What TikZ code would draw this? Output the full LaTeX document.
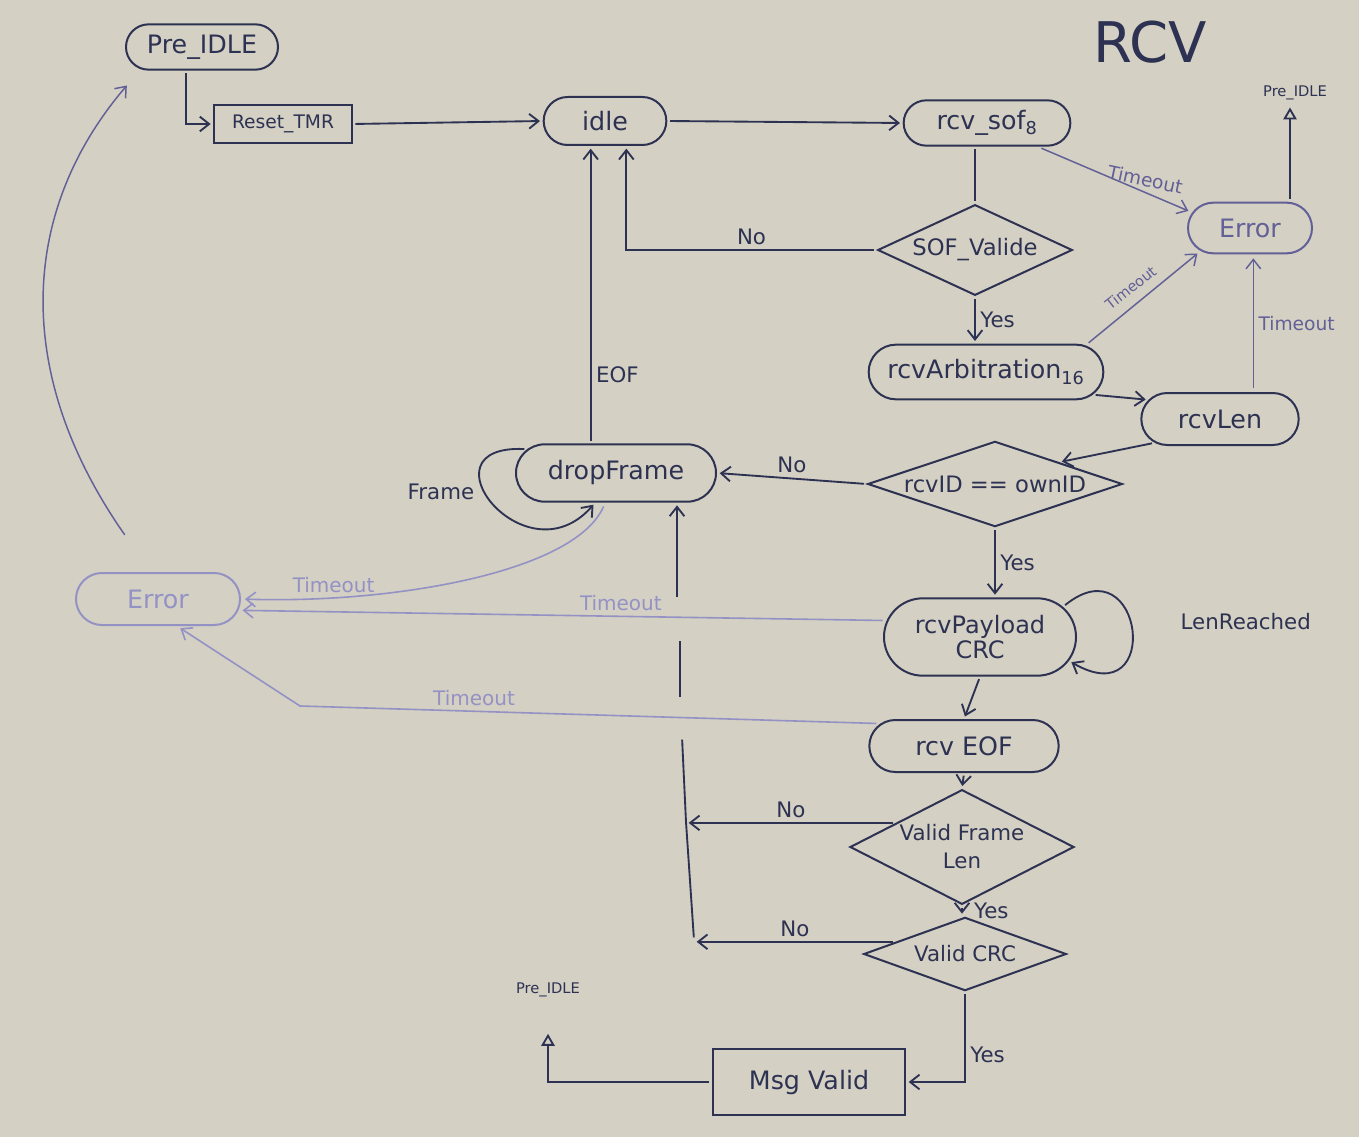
\documentclass[tikz,border=0pt]{standalone}
\usepackage{fontspec}
\setmainfont{DejaVu Sans}
\usepackage{tikz}
\usetikzlibrary{shapes.misc, shapes.geometric, arrows.meta}
\definecolor{board}{RGB}{212,208,196}
\definecolor{ink}{RGB}{45,50,82}
\definecolor{inkmid}{RGB}{98,96,150}
\definecolor{inklight}{RGB}{148,146,196}

\begin{document}
\begin{tikzpicture}[x=0.75pt,y=0.75pt,yscale=-1,xscale=1,
    >={Straight Barb[length=7pt,width=11pt]},
    state/.style={rounded rectangle, draw=ink, line width=1.5pt, text=ink, inner xsep=1pt, font=\fontsize{19}{21}\selectfont},
    statebox/.style={rectangle, draw=ink, line width=1.5pt, text=ink, font=\fontsize{19}{21}\selectfont},
    decision/.style={diamond, draw=ink, line width=1.5pt, inner sep=0pt},
    dtext/.style={text=ink, font=\fontsize{17}{21}\selectfont, align=center},
    flow/.style={draw=ink, line width=1.4pt, shorten >=2pt, shorten <=2pt},
    tmo/.style={draw=inkmid, line width=1.1pt, shorten >=3pt, shorten <=3pt},
    tmolight/.style={draw=inklight, line width=1.2pt, shorten >=3pt, shorten <=3pt},
    lbl/.style={text=ink, font=\fontsize{16}{18}\selectfont},
    lblmid/.style={text=inkmid, font=\fontsize{14}{16}\selectfont},
    lbllight/.style={text=inklight, font=\fontsize{15}{17}\selectfont},
    tiny/.style={text=ink, font=\fontsize{11}{13}\selectfont}]
    %uncomment if require: \path (0,1137); %set diagram left start at 0, and has height of 1137
    \useasboundingbox (0,0) rectangle (1359,1137);
    \fill [board] (0,0) rectangle (1359,1137);

    % Text Node
    \draw (1150,42) node [text=ink, font=\fontsize{42}{44}\selectfont] (title) {RCV};

    %Shape: Rounded Rect [id:preA]
    \draw (202,47) node [state, minimum width=116pt, minimum height=34pt] (preA) {Pre\_IDLE};
    %Shape: Rectangle [id:reset]
    \draw (283,124) node [statebox, minimum width=103pt, minimum height=28pt, font=\fontsize{14}{16}\selectfont] (reset) {Reset\_TMR};
    %Shape: Rounded Rect [id:idle]
    \draw (605,121) node [state, minimum width=94pt, minimum height=36pt] (idle) {idle};
    %Shape: Rounded Rect [id:sof]
    \draw (987,123) node [state, minimum width=127pt, minimum height=34pt] (sof) {rcv\_sof\textsubscript{8}};
    %Shape: Diamond [id:sofOK]
    \draw (975,250) node [decision, minimum width=146pt, minimum height=68pt, label={[dtext]center:SOF\_Valide}] (sofOK) {};
    %Shape: Rounded Rect [id:arb]
    \draw (986,372) node [state, minimum width=178pt, minimum height=41pt] (arb) {rcvArbitration\textsubscript{16}};
    %Shape: Rounded Rect [id:errR]
    \draw (1250,228) node [state, draw=inkmid, text=inkmid, minimum width=95pt, minimum height=38pt] (errR) {Error};
    %Shape: Rounded Rect [id:len]
    \draw (1220,419) node [state, minimum width=120pt, minimum height=39pt] (len) {rcvLen};
    %Shape: Diamond [id:idOK]
    \draw (995,484) node [decision, minimum width=191pt, minimum height=64pt, label={[dtext]center:rcvID == ownID}] (idOK) {};
    %Shape: Rounded Rect [id:drop]
    \draw (616,473) node [state, minimum width=152pt, minimum height=43pt] (drop) {dropFrame};
    %Shape: Rounded Rect [id:errL]
    \draw (158,599) node [state, draw=inklight, text=inklight, minimum width=125pt, minimum height=39pt] (errL) {Error};
    %Shape: Rounded Rect [id:payload]
    \draw (980,637) node [state, align=center, minimum width=146pt, minimum height=58pt, font=\fontsize{18}{19}\selectfont] (payload) {rcvPayload\\CRC};
    %Shape: Rounded Rect [id:eof]
    \draw (964,746) node [state, minimum width=144pt, minimum height=39pt] (eof) {rcv EOF};
    %Shape: Diamond [id:lenOK]
    \draw (962,847) node [decision, minimum width=168pt, minimum height=86pt, label={[dtext, font=\fontsize{16}{21}\selectfont]center:Valid Frame\\Len}] (lenOK) {};
    %Shape: Diamond [id:crcOK]
    \draw (965,954) node [decision, minimum width=152pt, minimum height=55pt, label={[dtext, font=\fontsize{16}{18}\selectfont]center:Valid CRC}] (crcOK) {};
    %Shape: Rectangle [id:msg]
    \draw (809,1082) node [statebox, minimum width=144pt, minimum height=49pt] (msg) {Msg Valid};
    % Text Node
    \draw (1295,93) node [tiny] (preR) {Pre\_IDLE};
    % Text Node
    \draw (548,990) node [tiny] (preB) {Pre\_IDLE};

    \coordinate (busTop) at (677,600);
    \coordinate (busM1) at (680,638);
    \coordinate (busM2) at (680,700);
    \coordinate (busL1) at (682,737);
    \coordinate (busN) at (686,822);
    \coordinate (busB) at (694,940);
    \coordinate (bendL) at (300,706);

    %Straight Lines
    \draw [flow, ->] ([xshift=-12pt]preA.south) |- (reset.west);
    \draw [flow, ->] (reset.east) -- (idle.west);
    \draw [flow, ->] (idle.east) -- (sof.west);
    \draw [flow] (sof.south -| sofOK.north) -- (sofOK.north);
    \draw [flow, ->] (sofOK.west) -| ([xshift=16pt]idle.south) node [lbl, pos=0.25, above] (lNo1) {No};
    \draw [flow, ->] (sofOK.south) -- (sofOK.south |- arb.north) node [lbl, midway, right] (lYes1) {Yes};
    \draw [tmo, ->] (sof.-25) -- (errR.165) node [lblmid, pos=0.68, above, rotate=-12] (lTo1) {Timeout};
    \draw [flow, -{Triangle[open, length=9pt, width=10pt]}] ([xshift=30pt]errR.north) -- ([xshift=30pt]errR.north |- preR.south);
    \draw [tmo, ->] (arb.15) -- (errR.205) node [lblmid, pos=0.45, above=5pt, rotate=38, font=\fontsize{11}{13}\selectfont] (lTo2) {Timeout};
    \draw [tmo, ->] ([xshift=25pt]len.north) -- ([xshift=25pt]len.north |- errR.south) node [lblmid, midway, right] (lTo3) {Timeout};
    \draw [flow, ->] (arb.-12) -- (len.165);
    \draw [flow, ->] (len.200) -- (idOK.north east);
    \draw [flow, ->] (idOK.west) -- (drop.east) node [lbl, midway, above] (lNo2) {No};
    \draw [flow, ->] ([xshift=-19pt]drop.north) -- ([xshift=-19pt]drop.north |- idle.south) node [lbl, pos=0.23, right] (lEOF) {EOF};
    %Curve Lines
    \draw [flow, ->] (drop.165) .. controls +(-110,-5) and +(-70,80) .. (drop.235) node [lbl, pos=0.42, left=4pt] (lFrame) {Frame};
    \draw [tmolight, ->] (drop.250) .. controls +(-30,70) and +(150,5) .. (errL.east) node [lbllight, pos=0.8, above] (lTo4) {Timeout};
    \draw [tmolight, ->] (payload.170) -- (errL.-8) node [lbllight, pos=0.41, above] (lTo5) {Timeout};
    \draw [tmolight, ->] (eof.165) -- node [lbllight, pos=0.7, above] (lTo6) {Timeout} (bendL) -- (errL.-55);
    \draw [flow, ->] (idOK.south) -- (idOK.south |- payload.north) node [lbl, midway, right] (lYes2) {Yes};
    \draw [flow, ->] (payload.20) .. controls +(80,-65) and +(95,55) .. (payload.-15) node [lbl, pos=0.45, right=34pt] (lLen) {LenReached};
    \draw [flow, ->] (payload.south) -- (eof.north);
    \draw [flow, ->] (eof.south) -- (lenOK.north);
    \draw [flow, ->] (lenOK.160) -- (lenOK.160 -| busN) node [lbl, midway, above] (lNo3) {No};
    \draw [flow, ->] (lenOK.south) -- (lenOK.south |- crcOK.north) node [lbl, midway, right=5pt] (lYes3) {Yes};
    \draw [flow, ->] (crcOK.170) -- (crcOK.170 -| busB) node [lbl, midway, above] (lNo4) {No};
    \draw [flow] (busB) -- (busN) -- (busL1);
    \draw [flow] (busM2) -- (busM1);
    \draw [flow, ->] (busTop) -- (busTop |- drop.south);
    \draw [flow, ->] (crcOK.south) |- (msg.east) node [lbl, pos=0.35, right] (lYes4) {Yes};
    \draw [flow, -{Triangle[open, length=9pt, width=10pt]}, shorten >=24pt] (msg.west) -| (preB.south);
    \draw [tmo, ->, shorten <=34pt, shorten >=16pt] (errL.105) .. controls +(-140,-200) and +(-120,140) .. (preA.200);

\end{tikzpicture}
\end{document}
